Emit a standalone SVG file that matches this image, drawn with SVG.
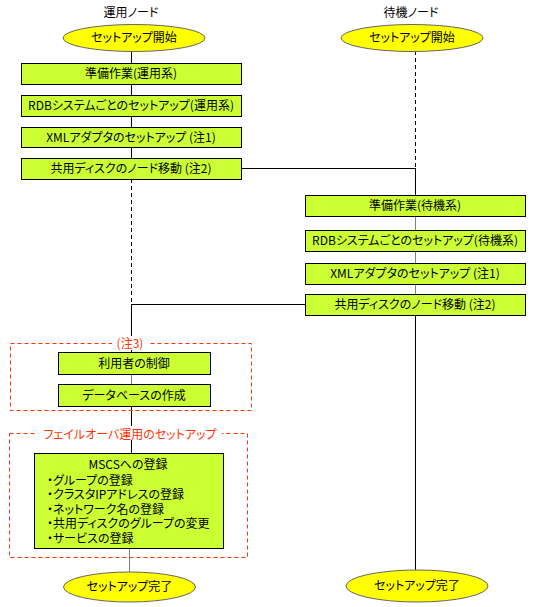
<svg xmlns="http://www.w3.org/2000/svg" width="536" height="607" viewBox="0 0 536 607">
<style>
text{font-family:"Noto Sans CJK JP","Noto Sans",sans-serif;font-size:12px;font-feature-settings:"palt";fill:#000}
.c{text-anchor:middle}
.red{fill:#FF3300}
.box{fill:#CCFF33;stroke:#000;stroke-width:1}
.ell{fill:#FFFF00;stroke:#666;stroke-width:1}
.ln{stroke:#000;stroke-width:1;fill:none}
.gl{stroke:#808080;stroke-width:1;fill:none}
.dl{stroke:#000;stroke-width:1;fill:none;stroke-dasharray:4,3}
.grp{fill:none;stroke:#FF3300;stroke-width:1;stroke-dasharray:4,3}
</style>
<rect width="536" height="607" fill="#fff"/>
<g id="connectors">
<line class="ln" x1="131.5" y1="51" x2="131.5" y2="63"/>
<line class="ln" x1="131.5" y1="84" x2="131.5" y2="95"/>
<line class="ln" x1="131.5" y1="116" x2="131.5" y2="127"/>
<line class="ln" x1="131.5" y1="147" x2="131.5" y2="158"/>
<line class="dl" x1="131.5" y1="179" x2="131.5" y2="304"/>
<line class="ln" x1="131.5" y1="304" x2="131.5" y2="352"/>
<line class="gl" x1="131.5" y1="374" x2="131.5" y2="384"/>
<line class="ln" x1="131.5" y1="406" x2="131.5" y2="453"/>
<line class="gl" x1="129.5" y1="548" x2="129.5" y2="572"/>
<line class="dl" x1="415.5" y1="51" x2="415.5" y2="168"/>
<line class="ln" x1="415.5" y1="168" x2="415.5" y2="195"/>
<line class="gl" x1="415.5" y1="216" x2="415.5" y2="230"/>
<line class="gl" x1="415.5" y1="251" x2="415.5" y2="263"/>
<line class="gl" x1="415.5" y1="284" x2="415.5" y2="294"/>
<line class="ln" x1="415.5" y1="315" x2="415.5" y2="570"/>
<line class="ln" x1="241" y1="168.5" x2="415.5" y2="168.5"/>
<line class="ln" x1="131.5" y1="304.5" x2="305" y2="304.5"/>
</g>
<g id="labels">
<text class="c" x="131" y="17">運用ノード</text>
<text class="c" x="411" y="17">待機ノード</text>
</g>
<g id="start-active">
<ellipse class="ell" cx="134" cy="38" rx="71" ry="13.5"/>
<text class="c" x="134" y="42">セットアップ開始</text>
</g>
<g id="start-standby">
<ellipse class="ell" cx="412" cy="38" rx="71" ry="13.5"/>
<text class="c" x="412" y="42">セットアップ開始</text>
</g>
<g id="a1"><rect class="box" x="21.5" y="63.5" width="220" height="21"/><text class="c" x="131" y="78">準備作業(運用系)</text></g>
<g id="a2"><rect class="box" x="21.5" y="95.5" width="220" height="21"/><text class="c" x="131" y="110">RDBシステムごとのセットアップ(運用系)</text></g>
<g id="a3"><rect class="box" x="21.5" y="127.5" width="220" height="20"/><text class="c" x="131" y="142">XMLアダプタのセットアップ (注1)</text></g>
<g id="a4"><rect class="box" x="21.5" y="158.5" width="220" height="21"/><text class="c" x="131" y="173">共用ディスクのノード移動 (注2)</text></g>
<g id="s1"><rect class="box" x="305.5" y="195.5" width="220" height="21"/><text class="c" x="415" y="210">準備作業(待機系)</text></g>
<g id="s2"><rect class="box" x="305.5" y="230.5" width="220" height="21"/><text class="c" x="415" y="245">RDBシステムごとのセットアップ(待機系)</text></g>
<g id="s3"><rect class="box" x="305.5" y="263.5" width="220" height="21"/><text class="c" x="415" y="278">XMLアダプタのセットアップ (注1)</text></g>
<g id="s4"><rect class="box" x="305.5" y="294.5" width="220" height="21"/><text class="c" x="415" y="309">共用ディスクのノード移動 (注2)</text></g>
<g id="note3">
<rect class="grp" x="10.5" y="343.5" width="241" height="67"/>
<rect x="112" y="336" width="36" height="14" fill="#fff"/>
<text class="c red" x="130" y="348">(注3)</text>
</g>
<g id="u1"><rect class="box" x="58.5" y="352.5" width="152" height="22"/><text class="c" x="134" y="368">利用者の制御</text></g>
<g id="u2"><rect class="box" x="58.5" y="384.5" width="152" height="22"/><text class="c" x="134" y="400">データベースの作成</text></g>
<g id="failover">
<rect class="grp" x="9.5" y="433.5" width="238" height="124"/>
<rect x="38" y="426" width="184" height="14" fill="#fff"/>
<text class="c red" x="130" y="439">フェイルオーバ運用のセットアップ</text>
</g>
<g id="mscs">
<rect class="box" x="34.5" y="453.5" width="189" height="95"/>
<text class="c" x="128" y="469">MSCSへの登録</text>
<text x="47" y="485">・グループの登録</text>
<text x="47" y="499">・クラスタIPアドレスの登録</text>
<text x="47" y="514">・ネットワーク名の登録</text>
<text x="47" y="528">・共用ディスクのグループの変更</text>
<text x="47" y="543">・サービスの登録</text>
</g>
<g id="end-active">
<ellipse class="ell" cx="129.5" cy="587" rx="66" ry="15"/>
<text class="c" x="129.5" y="591">セットアップ完了</text>
</g>
<g id="end-standby">
<ellipse class="ell" cx="417" cy="586" rx="71" ry="16"/>
<text class="c" x="417" y="590">セットアップ完了</text>
</g>
</svg>
